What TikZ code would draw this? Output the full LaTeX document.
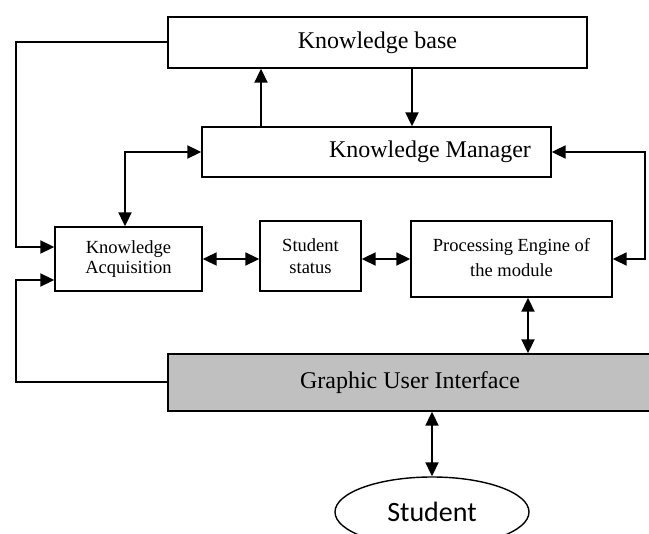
\documentclass[tikz,border=0pt]{standalone}
\usepackage{fontspec}
\setmainfont{Liberation Serif}
\newfontfamily\studfont{Carlito}
\usetikzlibrary{arrows.meta,shapes.geometric}
\tikzset{
  box/.style={draw, line width=1.4pt, rectangle, inner sep=0pt, align=center},
  big/.style={font=\fontsize{24}{28}\selectfont},
  small/.style={font=\fontsize{18.5}{22.5}\selectfont},
  tip/.tip={Triangle[length=14pt,width=13pt]},
  arr/.style={line width=2pt, -tip},
  arrb/.style={line width=2pt, tip-tip}
}
\begin{document}
\begin{tikzpicture}[x=1pt,y=-1pt]
\useasboundingbox (0,0) rectangle (649,534);
\clip (0,0) rectangle (649,534);
\node[box, big, minimum width=419pt, minimum height=51pt] (KB) at (377.5,42.5) {Knowledge base};
\node[box, minimum width=349pt, minimum height=50pt,
      label={[big, xshift=53.5pt]center:Knowledge Manager}] (KM) at (376.5,152) {};
\node[box, small, minimum width=147pt, minimum height=64pt] (KA) at (128.5,259) {\raisebox{-3pt}{\begin{tabular}{@{}c@{}}Knowledge\\[-2pt]Acquisition\end{tabular}}};
\node[box, small, minimum width=101pt, minimum height=70pt] (SS) at (310.5,256) {Student\\status};
\node[box, small, minimum width=201pt, minimum height=76pt, font=\fontsize{18.5}{25}\selectfont] (PE) at (511.5,259) {\raisebox{3pt}{\begin{tabular}{@{}c@{}}Processing Engine of\\the module\end{tabular}}};
\node[box, big, fill={rgb,255:red,192;green,192;blue,192}, minimum width=484pt, minimum height=57pt] (GUI) at (410,382.5) {Graphic User Interface};
\node[draw, line width=1.4pt, ellipse, inner sep=0pt, minimum width=194pt, minimum height=70pt,
      font=\studfont\fontsize{28}{32}\selectfont] (ST) at (432,512) {Student};
% coordinates for connector bends
\coordinate (l1) at (16,247);
\coordinate (l2) at (16,280);
\coordinate (up) at (261,0);
\coordinate (dn) at (412,0);
\coordinate (ka) at (125,155);
\coordinate (r1) at (645,0);
\coordinate (pg) at (528,0);
% connectors
\draw[arr] (KB.west) -| (l1) -- (KA.west |- l1);
\draw[arr] (GUI.west) -| (l2) -- (KA.west |- l2);
\draw[arr] (KM.north -| up) -- (KB.south -| up);
\draw[arr] (KB.south -| dn) -- (KM.north -| dn);
\draw[arrb] (KA.north -| ka) |- (KM.west);
\draw[arrb] (KM.east) -| (r1 |- PE.east) -- (PE.east);
\draw[arrb] (KA.east) -- (SS.west |- KA.east);
\draw[arrb] (SS.east |- PE.west) -- (PE.west);
\draw[arrb] (PE.south -| pg) -- (GUI.north -| pg);
\draw[arrb] (GUI.south -| ST.north) -- (ST.north);
\end{tikzpicture}
\end{document}
